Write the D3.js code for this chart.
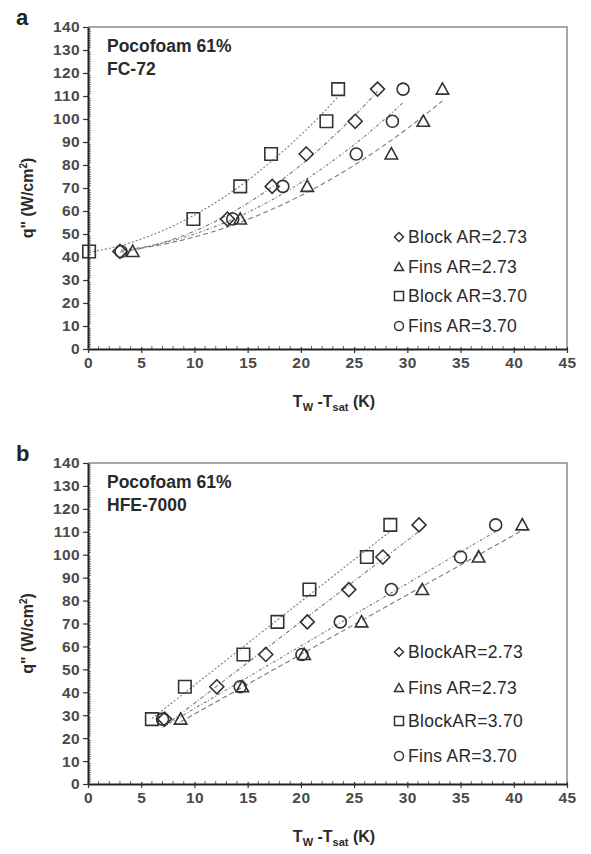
<!DOCTYPE html>
<html>
<head>
<meta charset="utf-8">
<script src="https://cdn.jsdelivr.net/npm/d3@7"></script>
<style>
  html, body { margin: 0; padding: 0; background: #fff; }
  svg { display: block; font-family: Arial, "Liberation Sans", sans-serif; }
</style>
</head>
<body>
<svg id="chart" width="591" height="854"></svg>
<script>
// Heat flux levels (W/cm²) shared by the series
const fluxA = [42.4, 56.5, 70.7, 84.8, 99.0, 113.0];
const fluxB = [28.3, 42.4, 56.5, 70.7, 84.8, 99.0, 113.0];

// Panel a: Pocofoam 61%, FC-72 — wall superheat (K)
const a_block273 = [3.0, 13.1, 17.3, 20.5, 25.1, 27.2];
const a_fins273  = [4.2, 14.3, 20.6, 28.5, 31.5, 33.3];
const a_block370 = [0.1, 9.9, 14.3, 17.2, 22.4, 23.5];
const a_fins370  = [3.1, 13.6, 18.3, 25.2, 28.6, 29.6];

// Panel b: Pocofoam 61%, HFE-7000 — wall superheat (K)
const b_block273 = [7.2, 12.1, 16.7, 20.6, 24.5, 27.7, 31.1];
const b_fins273  = [8.7, 14.5, 20.3, 25.7, 31.4, 36.7, 40.8];
const b_block370 = [6.0, 9.1, 14.6, 17.8, 20.8, 26.2, 28.4];
const b_fins370  = [7.0, 14.3, 20.1, 23.7, 28.5, 35.0, 38.3];

const legendA = ["Block AR=2.73", "Fins AR=2.73", "Block AR=3.70", "Fins AR=3.70"];
const legendB = ["BlockAR=2.73", "Fins AR=2.73", "BlockAR=3.70", "Fins AR=3.70"];
const symbols = ["diamond", "triangle", "square", "circle"];

const xTicks = [0, 5, 10, 15, 20, 25, 30, 35, 40, 45];
const yTicks = [0, 10, 20, 30, 40, 50, 60, 70, 80, 90, 100, 110, 120, 130, 140];

const svg = d3.select("#chart");
const ink = "#333";

// least-squares polynomial fit y = c0 + c1 x + c2 x^2 (degree 1 or 2)
function polyFit(xs, ys, deg) {
  const n = deg + 1;
  const A = Array.from({length: n}, () => new Array(n + 1).fill(0));
  xs.forEach((x, k) => {
    for (let i = 0; i < n; i++) {
      for (let j = 0; j < n; j++) A[i][j] += Math.pow(x, i + j);
      A[i][n] += ys[k] * Math.pow(x, i);
    }
  });
  for (let i = 0; i < n; i++) {
    let p = i;
    for (let r = i + 1; r < n; r++) if (Math.abs(A[r][i]) > Math.abs(A[p][i])) p = r;
    [A[i], A[p]] = [A[p], A[i]];
    for (let r = 0; r < n; r++) {
      if (r === i) continue;
      const f = A[r][i] / A[i][i];
      for (let c = i; c <= n; c++) A[r][c] -= f * A[i][c];
    }
  }
  const coef = A.map((row, i) => row[n] / row[i]);
  return x => coef.reduce((s, c, i) => s + c * Math.pow(x, i), 0);
}

function symbolPath(type, size) {
  const s = size / 2;
  if (type === "diamond") return `M0,${-s}L${s},0L0,${s}L${-s},0Z`;
  if (type === "square") return `M${-s},${-s}H${s}V${s}H${-s}Z`;
  if (type === "triangle") return `M0,${-s}L${s},${s * 0.8}H${-s}Z`;
  return d3.arc()({innerRadius: 0, outerRadius: s, startAngle: 0, endAngle: 2 * Math.PI});
}

function drawPanel(cfg) {
  const g = svg.append("g");
  const x = d3.scaleLinear().domain([0, 45]).range([cfg.left, cfg.right]);
  const y = d3.scaleLinear().domain([0, 140]).range([cfg.bottom, cfg.top]);

  // frame: top and right
  g.append("path")
    .attr("d", `M${cfg.left},${cfg.top}H${cfg.right}V${cfg.bottom}`)
    .attr("fill", "none").attr("stroke", "#8a8a8a").attr("stroke-width", 1.5);

  // minor ticks (inside)
  const yMinor = d3.range(0, 141, 1).filter(v => v % 10 !== 0);
  g.append("g").selectAll("line").data(yMinor).join("line")
    .attr("x1", cfg.left).attr("x2", cfg.left + 3)
    .attr("y1", d => y(d)).attr("y2", d => y(d))
    .attr("stroke", "#555").attr("stroke-width", 0.8);
  const xMinor = d3.range(0, 46, 1).filter(v => v % 5 !== 0);
  g.append("g").selectAll("line").data(xMinor).join("line")
    .attr("x1", d => x(d)).attr("x2", d => x(d))
    .attr("y1", cfg.bottom).attr("y2", cfg.bottom - 3)
    .attr("stroke", "#555").attr("stroke-width", 0.9);

  // axes
  const yAxis = g.append("g").attr("transform", `translate(${cfg.left},0)`)
    .call(d3.axisLeft(y).tickValues(yTicks).tickSize(5).tickPadding(3).tickSizeOuter(0));
  const xAxis = g.append("g").attr("transform", `translate(0,${cfg.bottom})`)
    .call(d3.axisBottom(x).tickValues(xTicks).tickSize(4).tickPadding(4).tickSizeOuter(0));
  [yAxis, xAxis].forEach(ax => {
    ax.select(".domain").attr("stroke", "#222").attr("stroke-width", 2);
    ax.selectAll(".tick line").attr("stroke", "#333").attr("stroke-width", 1.2);
    ax.selectAll(".tick text").attr("fill", "#4a4a4a")
      .style("font-size", "15.5px").style("font-weight", "bold")
      .style("letter-spacing", "0.4px")
      .style("font-family", "Arial, 'Liberation Sans', sans-serif");
  });
  xAxis.selectAll(".tick line").attr("y1", -2);

  // trend lines
  const dashes = ["4,2,1,2", "5,3", "2,2", "3,2,1,2"];
  cfg.series.forEach((xs, i) => {
    const f = polyFit(xs, cfg.flux, cfg.degree);
    const [x0, x1] = d3.extent(xs);
    const pts = d3.range(0, 61).map(k => {
      const xv = x0 + (x1 - x0) * k / 60;
      return [x(xv), y(f(xv))];
    });
    g.append("path").attr("d", d3.line()(pts))
      .attr("fill", "none").attr("stroke", "#7a7a7a")
      .attr("stroke-width", 1.1).attr("stroke-dasharray", dashes[i]);
  });

  // markers
  cfg.series.forEach((xs, i) => {
    g.append("g").selectAll("path").data(xs.map((v, k) => [v, cfg.flux[k]])).join("path")
      .attr("transform", d => `translate(${x(d[0])},${y(d[1])})`)
      .attr("d", symbolPath(symbols[i], symbols[i] === "circle" ? 12 : (symbols[i] === "diamond" ? 14 : 12.5)))
      .attr("fill", "none").attr("stroke", ink).attr("stroke-width", 1.6);
  });

  // legend
  cfg.legend.forEach((label, i) => {
    const ly = cfg.legendY[i];
    g.append("path")
      .attr("transform", `translate(399,${ly})`)
      .attr("d", symbolPath(symbols[i], 9))
      .attr("fill", "none").attr("stroke", ink).attr("stroke-width", 1.5);
    g.append("text").attr("x", 408).attr("y", ly + 6)
      .attr("fill", "#2a2a2a").style("font-size", "17.5px")
      .style("letter-spacing", "0.3px")
      .text(label);
  });

  // panel letter and annotation
  g.append("text").attr("x", 16).attr("y", cfg.top - 2)
    .style("font-size", "22px").style("font-weight", "bold").attr("fill", "#222")
    .text(cfg.letter);
  g.append("text").attr("x", 107).attr("y", cfg.top + 25)
    .style("font-size", "17.5px").style("font-weight", "bold").attr("fill", "#2a2a2a")
    .text("Pocofoam 61%");
  g.append("text").attr("x", 107).attr("y", cfg.top + 48)
    .style("font-size", "17.5px").style("font-weight", "bold").attr("fill", "#2a2a2a")
    .text(cfg.fluid);

  // y title
  const yt = g.append("text")
    .attr("transform", `translate(33,${(cfg.top + cfg.bottom) / 2 + 10}) rotate(-90)`)
    .attr("text-anchor", "middle")
    .style("font-size", "16px").style("font-weight", "bold").attr("fill", "#2a2a2a");
  yt.append("tspan").text("q\" (W/cm");
  yt.append("tspan").attr("dy", -6).style("font-size", "10px").text("2");
  yt.append("tspan").attr("dy", 6).text(")");

  // x title
  const xt = g.append("text")
    .attr("x", 334).attr("y", cfg.bottom + 58)
    .attr("text-anchor", "middle")
    .style("font-size", "16px").style("font-weight", "bold").attr("fill", "#2a2a2a");
  xt.append("tspan").text("T");
  xt.append("tspan").attr("dy", 4).style("font-size", "11px").text("W");
  xt.append("tspan").attr("dy", -4).text(" -T");
  xt.append("tspan").attr("dy", 4).style("font-size", "11px").text("sat");
  xt.append("tspan").attr("dy", -4).text(" (K)");
}

drawPanel({
  letter: "a", fluid: "FC-72",
  left: 88, right: 567, top: 27, bottom: 349,
  flux: fluxA, degree: 2,
  series: [a_block273, a_fins273, a_block370, a_fins370],
  legend: legendA, legendY: [237, 267, 296, 326]
});

drawPanel({
  letter: "b", fluid: "HFE-7000",
  left: 88, right: 567, top: 463, bottom: 784,
  flux: fluxB, degree: 1,
  series: [b_block273, b_fins273, b_block370, b_fins370],
  legend: legendB, legendY: [652, 688, 721, 756]
});
</script>
</body>
</html>
